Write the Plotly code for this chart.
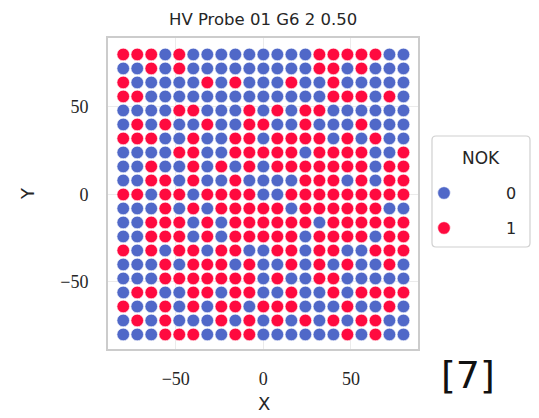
import plotly.graph_objects as go

# ---------------- data ----------------
title_text = "HV Probe 01 G6 2 0.50"
x_levels = [-80, -72, -64, -56, -48, -40, -32, -24, -16, -8, 0,
            8, 16, 24, 32, 40, 48, 56, 64, 72, 80]
y_levels = [80, 72, 64, 56, 48, 40, 32, 24, 16, 8, 0,
            -8, -16, -24, -32, -40, -48, -56, -64, -72, -80]
# NOK per grid row (top row first), one char per x level: B = 0, R = 1
nok_rows = [
    "RRRBRBBBBBBBBBRRRRRBB",
    "BBRBRBBBBBBBBBRRBRBBB",
    "RBBBBBRBRBBBRBBRBBBBB",
    "RRBBBBBBBBBBBBBRRRBRB",
    "BBBBRRBBBRBRBRRBBBBBB",
    "BRBRBBRBBRRBBRBBBRBBB",
    "RRRBBRBBRRBRRRRBRBRBB",
    "BBBBRRBBRRRRRBRRRRBBR",
    "BBRBBRBRBRBRRRRRRRBRR",
    "BBRRBRBBRBBBBRRRBRBRR",
    "RRBRRBRRRRBBRRRRRRRRR",
    "BBBRBRBRRRRRBRRRRRRBB",
    "BBRRRBRBRRRRRRBRRRRRR",
    "BBRRRBRBRRRRRBRRRRBRR",
    "RBRBRRBRRBBRRBRRBBRRR",
    "BBBRBRRRBRBBRBRBRBBRB",
    "BBBRRRRRRRBRBBRRBBBBB",
    "BRRBBRRBRRBBRBBRBRRRR",
    "RBBRBRBRRBRRRBBBRBBRB",
    "BRBRBBBRBRBRBRBRBRRBB",
    "BBBRRRBBRRBBBBBBRBRBB",
]
legend_title = "NOK"
legend_labels = ["0", "1"]
tick_vals = [-50, 0, 50]
tick_text = ["\u221250", "0", "50"]
corner_label = "[7]"

# ---------------- styling ----------------
W, H = 539, 418
OFF = 8                                  # default page body margin
L, R, T, B = 108, 418, 38, 349          # plot area in page pixels
class_colors = {0: "#5068C8", 1: "#FF0A3F"}
text_color = "#262626"


def px_x(p):
    return (p - L) / (R - L)


def px_y(p):
    return (B - p) / (B - T)


pts = {0: ([], []), 1: ([], [])}
for yi, row in enumerate(nok_rows):
    for xi, ch in enumerate(row):
        cls = 1 if ch == "R" else 0
        pts[cls][0].append(x_levels[xi])
        pts[cls][1].append(y_levels[yi])

fig = go.Figure()
for cls in (0, 1):
    fig.add_trace(go.Scatter(
        x=pts[cls][0], y=pts[cls][1], mode="markers",
        marker=dict(size=12.6, color=class_colors[cls],
                    line=dict(color="white", width=0.6)),
        name=legend_labels[cls], showlegend=False, hoverinfo="skip"))

axis_common = dict(
    tickvals=tick_vals, ticktext=tick_text,
    showgrid=True, gridcolor="#ebebeb", gridwidth=1,
    zeroline=False, showline=True, mirror=True,
    linecolor="#cccccc", linewidth=1.8, ticks="",
    tickfont=dict(family="Liberation Serif", size=18, color=text_color),
)
fig.update_xaxes(range=[-88.7, 88.3], ticklabelstandoff=12, **axis_common)
fig.update_yaxes(range=[-88.3, 89.4], ticklabelstandoff=14, **axis_common)

ann = []
ann.append(dict(text=title_text, x=0.5, y=px_y(20), xref="paper", yref="paper",
                showarrow=False, xanchor="center", yanchor="middle",
                font=dict(family="DejaVu Sans", size=16.5, color=text_color)))
ann.append(dict(text="X", x=px_x(264), y=px_y(403), xref="paper", yref="paper",
                showarrow=False, xanchor="center", yanchor="middle",
                font=dict(family="DejaVu Sans", size=18, color=text_color)))
ann.append(dict(text="Y", x=px_x(27), y=px_y(194), xref="paper", yref="paper",
                showarrow=False, xanchor="center", yanchor="middle", textangle=-90,
                font=dict(family="DejaVu Sans", size=18, color=text_color)))
ann.append(dict(text=corner_label, x=px_x(468), y=px_y(375), xref="paper", yref="paper",
                showarrow=False, xanchor="center", yanchor="middle",
                font=dict(family="DejaVu Sans", size=38, color="#111111")))
ann.append(dict(text=legend_title, x=px_x(481), y=px_y(158), xref="paper", yref="paper",
                showarrow=False, xanchor="center", yanchor="middle",
                font=dict(family="DejaVu Sans", size=17, color=text_color)))
legend_rows_y = [193, 228]
for lab, yy in zip(legend_labels, legend_rows_y):
    ann.append(dict(text=lab, x=px_x(518), y=px_y(yy), xref="paper", yref="paper",
                    showarrow=False, xanchor="right", yanchor="middle",
                    font=dict(family="DejaVu Sans", size=16, color=text_color)))

shapes = []
# legend frame (rounded rectangle)
bx0, bx1, by0, by1, rr = 432, 530, 136, 247, 4
path = (f"M {px_x(bx0+rr)},{px_y(by0)} L {px_x(bx1-rr)},{px_y(by0)} "
        f"Q {px_x(bx1)},{px_y(by0)} {px_x(bx1)},{px_y(by0+rr)} "
        f"L {px_x(bx1)},{px_y(by1-rr)} Q {px_x(bx1)},{px_y(by1)} {px_x(bx1-rr)},{px_y(by1)} "
        f"L {px_x(bx0+rr)},{px_y(by1)} Q {px_x(bx0)},{px_y(by1)} {px_x(bx0)},{px_y(by1-rr)} "
        f"L {px_x(bx0)},{px_y(by0+rr)} Q {px_x(bx0)},{px_y(by0)} {px_x(bx0+rr)},{px_y(by0)} Z")
shapes.append(dict(type="path", path=path, xref="paper", yref="paper",
                   line=dict(color="#d0d0d0", width=1.2), fillcolor="white"))
for cls, yy in zip((0, 1), legend_rows_y):
    r = 6.3
    shapes.append(dict(type="circle", xref="paper", yref="paper",
                       x0=px_x(444 - r), x1=px_x(444 + r), y0=px_y(yy + r), y1=px_y(yy - r),
                       fillcolor=class_colors[cls], line=dict(color="white", width=0.6)))

fig.update_layout(
    width=W - OFF, height=H - OFF,
    margin=dict(l=L - OFF, r=W - R, t=T - OFF, b=H - B, pad=0),
    paper_bgcolor="white", plot_bgcolor="white",
    showlegend=False, annotations=ann, shapes=shapes,
)

fig.write_html("out.html")
